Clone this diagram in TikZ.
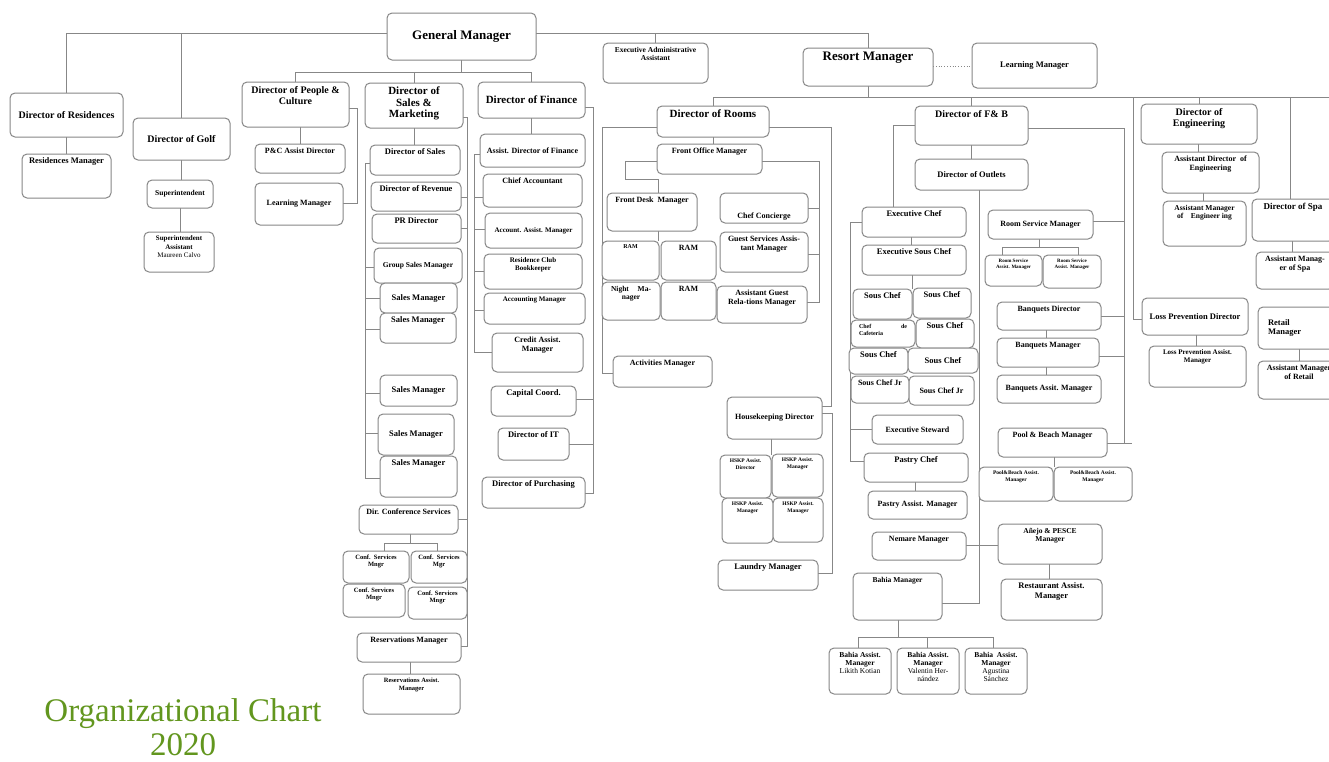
\documentclass[tikz,border=0pt]{standalone}
\usepackage{fontspec}
\setmainfont{Liberation Serif}
\usetikzlibrary{calc}
\pgfdeclarelayer{bg}
\pgfsetlayers{bg,main}
\definecolor{ln}{RGB}{135,135,135}
\definecolor{ttl}{RGB}{98,150,30}
\tikzset{
  bx/.style={draw=ln,line width=1pt,rounded corners=5pt,inner sep=0pt,outer sep=0pt,fill=white},
  cn/.style={draw=ln,line width=0.9pt}
}
\newcommand\fsz[2]{\fontsize{#1}{#2}\selectfont\bfseries}
\newcommand\nmw{\mdseries}
\newcommand\obx[7]{\node[bx,minimum width={(#4-#2)*1pt},minimum height={(#5-#3)*1pt}] (#1) at ({(#2+#4)/2},{(#3+#5)/2}) {\parbox[c][\dimexpr #5pt-#3pt-8pt\relax][#6]{\dimexpr #4pt-#2pt-4pt\relax}{\centering #7\par}};}
\begin{document}
\begin{tikzpicture}[x=1pt,y=-1pt]
\useasboundingbox (0,0) rectangle (1329,761);
\clip (0,0) rectangle (1329,761);
% top
\obx{gm}{387}{13}{536}{60}{c}{\fsz{13}{14}General Manager}
\obx{eaa}{603}{43}{708}{83}{t}{\fsz{7.5}{8.5}Executive Administrative\\Assistant}
\obx{rm}{803}{48}{933}{86}{t}{\fsz{13}{14}Resort Manager}
\obx{lmr}{972}{43}{1097}{88}{c}{\fsz{8.5}{9.5}Learning Manager}
% left
\obx{dres}{10}{93}{123}{137}{c}{\fsz{10}{11}Director of Residences}
\obx{resm}{22}{154}{111}{198}{t}{\fsz{8.5}{9.5}Residences Manager}
\obx{dgolf}{133}{118}{230}{160}{c}{\fsz{10}{11}Director of Golf}
\obx{sup}{147}{180}{213}{208}{c}{\fsz{7.5}{8.5}Superintendent}
\obx{supa}{144}{232}{214}{272}{t}{\fsz{7}{8.5}Superintendent\\Assistant\\\nmw Maureen Calvo}
% people & culture
\obx{dpc}{242}{82}{349}{127}{t}{\fsz{10}{11}Director of People \&\\Culture}
\obx{pcad}{255}{144}{345}{173}{t}{\fsz{8}{9}P\&C Assist Director}
\obx{lml}{255}{183}{343}{225}{c}{\fsz{8}{9}Learning Manager}
% sales & marketing
\obx{dsm}{365}{83}{463}{128}{t}{\fsz{11}{11.5}Director of\\Sales \&\\Marketing}
\obx{ds}{370}{145}{460}{175}{t}{\fsz{8.5}{9.5}Director of Sales}
\obx{dorev}{371}{182}{461}{211}{t}{\fsz{8.5}{9.5}Director of Revenue}
\obx{prd}{372}{214}{461}{243}{t}{\fsz{8.5}{9.5}PR Director}
\obx{gsm}{374}{248}{462}{283}{c}{\fsz{7.5}{8.5}Group Sales Manager}
\obx{sm1}{380}{283}{457}{313}{c}{\fsz{8.5}{9.5}Sales Manager}
\obx{sm2}{380}{313}{456}{343}{t}{\fsz{8.5}{9.5}Sales Manager}
\obx{sm3}{380}{375}{457}{406}{c}{\fsz{8.5}{9.5}Sales Manager}
\obx{sm4}{378}{414}{454}{455}{c}{\fsz{8.5}{9.5}Sales Manager}
\obx{sm5}{380}{456}{457}{497}{t}{\fsz{8.5}{9.5}Sales Manager}
\obx{dcs}{359}{505}{458}{534}{t}{\fsz{8}{9}Dir. Conference Services}
\obx{cs1}{343}{551}{409}{583}{t}{\fsz{6.5}{7}Conf.\ \ Services\\Mngr}
\obx{cs2}{411}{551}{467}{583}{t}{\fsz{6.5}{7}Conf.\ \ Services\\Mgr}
\obx{cs3}{343}{584}{405}{617}{t}{\fsz{6.5}{7}Conf. Services\\Mngr}
\obx{cs4}{408}{587}{467}{619}{t}{\fsz{6.5}{7}Conf. Services\\Mngr}
\obx{rsv}{357}{633}{461}{662}{t}{\fsz{8}{9}Reservations Manager}
\obx{rsva}{363}{674}{460}{714}{t}{\fsz{6.5}{8}Reservations Assist.\\Manager}
% finance
\obx{dfin}{478}{82}{585}{118}{c}{\fsz{11}{12}Director of Finance}
\obx{adf}{480}{134}{585}{167}{c}{\fsz{8}{9}Assist. Director of Finance}
\obx{ca}{483}{174}{582}{207}{t}{\fsz{8}{9}Chief Accountant}
\obx{aam}{485}{213}{582}{248}{c}{\fsz{7}{8}Account. Assist. Manager}
\obx{rcb}{484}{254}{582}{289}{t}{\fsz{7}{7.5}Residence Club\\Bookkeeper}
\obx{am}{484}{293}{585}{324}{t}{\fsz{7}{8}Accounting Manager}
\obx{cam}{492}{333}{583}{372}{t}{\fsz{8}{9}Credit Assist.\\Manager}
\obx{capc}{491}{386}{576}{416}{t}{\fsz{8.5}{9.5}Capital Coord.}
\obx{dit}{498}{428}{569}{460}{t}{\fsz{8.5}{9.5}Director of IT}
\obx{dpur}{482}{477}{585}{508}{t}{\fsz{8.5}{9.5}Director of Purchasing}
% rooms
\obx{dro}{657}{106}{769}{137}{t}{\fsz{11}{12}Director of Rooms}
\obx{fom}{657}{144}{762}{174}{t}{\fsz{8}{9}Front Office Manager}
\obx{fdm}{607}{193}{697}{231}{t}{\fsz{8}{9}Front Desk\ \ Manager}
\obx{ram1}{602}{241}{659}{280}{t}{\fsz{6}{7}RAM}
\obx{ram2}{661}{241}{716}{280}{t}{\fsz{8}{9}RAM}
\obx{nmg}{602}{282}{660}{320}{t}{\fsz{7.5}{8.5}\makebox[40pt][s]{Night Ma-}\\nager}
\obx{ram3}{661}{282}{716}{320}{t}{\fsz{8}{9}RAM}
\obx{chc}{720}{193}{808}{223}{b}{\fsz{8}{9}Chef Concierge}
\obx{gsam}{720}{232}{808}{272}{t}{\fsz{8}{9}Guest Services Assis-\\tant Manager}
\obx{agrm}{717}{286}{807}{323}{t}{\fsz{8}{9}Assistant Guest\\Rela-tions Manager}
\obx{act}{613}{356}{712}{387}{t}{\fsz{8}{9}Activities Manager}
\obx{hkd}{727}{397}{822}{439}{c}{\fsz{8}{9}Housekeeping Director}
\obx{hk1}{720}{455}{771}{498}{t}{\fsz{5.5}{6.5}HSKP Assist.\\Director}
\obx{hk2}{772}{454}{823}{497}{t}{\fsz{5.5}{6.5}HSKP Assist.\\Manager}
\obx{hk3}{722}{498}{773}{543}{t}{\fsz{5.5}{6.5}HSKP Assist.\\Manager}
\obx{hk4}{773}{498}{823}{542}{t}{\fsz{5.5}{6.5}HSKP Assist.\\Manager}
\obx{lau}{718}{560}{818}{590}{t}{\fsz{8.5}{9.5}Laundry Manager}
% F&B
\obx{dfb}{915}{106}{1028}{145}{t}{\fsz{10}{11}Director of F\& B}
\obx{dout}{915}{159}{1028}{190}{c}{\fsz{8.5}{9.5}Director of Outlets}
\obx{ec}{862}{207}{966}{237}{t}{\fsz{8.5}{9.5}Executive Chef}
\obx{esc}{862}{245}{966}{275}{t}{\fsz{8.5}{9.5}Executive Sous Chef}
\obx{sc1}{853}{289}{912}{319}{t}{\fsz{8.5}{9.5}Sous Chef}
\obx{sc2}{913}{288}{971}{318}{t}{\fsz{8.5}{9.5}Sous Chef}
\obx{cdc}{851}{320}{915}{347}{t}{\fsz{6}{7}{\raggedright\leftskip=6pt\makebox[48pt][s]{Chef de}\\Cafeteria\par}}
\obx{sc3}{916}{319}{974}{348}{t}{\fsz{8.5}{9.5}Sous Chef}
\obx{sc4}{849}{348}{908}{374}{t}{\fsz{8.5}{9.5}Sous Chef}
\obx{sc5}{908}{348}{978}{373}{c}{\fsz{8.5}{9.5}Sous Chef}
\obx{scj1}{851}{376}{909}{403}{t}{\fsz{8}{9}Sous Chef Jr}
\obx{scj2}{909}{376}{974}{405}{c}{\fsz{8}{9}Sous Chef Jr}
\obx{es}{872}{415}{963}{444}{c}{\fsz{8}{9}Executive Steward}
\obx{pc}{864}{453}{968}{482}{t}{\fsz{8.5}{9.5}Pastry Chef}
\obx{pam}{868}{491}{967}{519}{c}{\fsz{8}{9}Pastry Assist. Manager}
\obx{nem}{872}{532}{966}{560}{t}{\fsz{8}{9}Nemare Manager}
\obx{bm}{853}{573}{942}{620}{t}{\fsz{7.5}{8.5}Bahia Manager}
\obx{ba1}{829}{648}{891}{694}{t}{\fsz{7.5}{8}Bahia Assist.\\Manager\\\nmw Likith Kotian}
\obx{ba2}{897}{648}{959}{694}{t}{\fsz{7.5}{8}Bahia Assist.\\Manager\\\nmw Valentin Her-\\nández}
\obx{ba3}{965}{648}{1027}{694}{t}{\fsz{7.5}{8}Bahia\ \ Assist.\\Manager\\\nmw Agustina\\Sánchez}
\obx{rsm}{988}{210}{1093}{239}{c}{\fsz{8}{9}Room Service Manager}
\obx{rsa1}{985}{255}{1042}{286}{t}{\fsz{5}{6}Room Service\\Assist. Manager}
\obx{rsa2}{1043}{255}{1101}{288}{t}{\fsz{5}{6}Room Service\\Assist. Manager}
\obx{bqd}{997}{302}{1101}{330}{t}{\fsz{8}{9}Banquets Director}
\obx{bqm}{997}{338}{1099}{367}{t}{\fsz{8}{9}Banquets Manager}
\obx{bqa}{997}{375}{1101}{403}{c}{\fsz{8}{9}Banquets Assit. Manager}
\obx{pbm}{998}{428}{1107}{457}{t}{\fsz{8}{9}Pool \& Beach Manager}
\obx{pba1}{979}{467}{1053}{501}{t}{\fsz{5.5}{6.5}Pool\&Beach Assist.\\Manager}
\obx{pba2}{1054}{467}{1132}{501}{t}{\fsz{5.5}{6.5}Pool\&Beach Assist.\\Manager}
\obx{anj}{998}{524}{1102}{564}{t}{\fsz{7.5}{8.5}Añejo \& PESCE\\Manager}
\obx{rstam}{1001}{579}{1102}{620}{t}{\fsz{8.5}{9.5}Restaurant Assist.\\Manager}
% engineering, spa, loss prevention, retail
\obx{deng}{1141}{104}{1257}{144}{t}{\fsz{10}{11}Director of\\Engineering}
\obx{adeng}{1162}{152}{1259}{193}{t}{\fsz{8}{9}Assistant Director\ \ of\\Engineering}
\obx{ameng}{1163}{201}{1246}{246}{t}{\fsz{7.5}{8.5}Assistant Manager\\of\ \ \ \ Engineer ing}
\obx{dspa}{1252}{199}{1334}{241}{t}{\fsz{9}{10}Director of Spa}
\obx{amspa}{1256}{252}{1334}{289}{t}{\fsz{8}{9}Assistant Manag-\\er of Spa}
\obx{lpd}{1142}{298}{1248}{335}{c}{\fsz{8.5}{9.5}Loss Prevention Director}
\obx{lpam}{1149}{346}{1246}{387}{t}{\fsz{7}{8}Loss Prevention Assist.\\Manager}
\obx{retm}{1258}{307}{1340}{349}{c}{\fsz{8.5}{9.5}{\raggedright\leftskip=8pt Retail\\Manager\par}}
\obx{amr}{1258}{361}{1340}{399}{t}{\fsz{8}{9}Assistant Manager\\of Retail}
% title
\node[anchor=north,align=center,text=ttl,font=\fontsize{33}{34}\selectfont,inner sep=0pt] (title) at (183,698) {Organizational Chart\\2020};
\begin{pgfonlayer}{bg}
\fill[white] (0,0) rectangle (1329,761);
% top
\draw[cn] (gm.west |- 0,33) -| (dres.north);
\draw[cn] (dgolf.north) -- (dgolf.north |- 0,33);
\draw[cn] (gm.east |- 0,33) -| (rm.north);
\draw[cn] (eaa.north) -- (eaa.north |- 0,33);
\draw[cn] (dres.south) -- (resm.north);
\draw[cn] (dgolf.south) -- (dgolf.south |- sup.north);
\draw[cn] (sup.south) -- (sup.south |- supa.north);
\draw[cn] (gm.south) -- (gm.south |- 0,72);
\draw[cn] (dpc.north) |- (dfin.north |- 0,72) -- (dfin.north);
\draw[cn] (dsm.north) -- (dsm.north |- 0,72);
% people & culture
\draw[cn] (dpc.south -| pcad.north) -- (pcad.north);
\draw[cn] (dpc.east |- 0,108) -- (357,108) -- (357,203) -- (lml.east |- 0,203);
% sales & marketing
\draw[cn] (dsm.south) -- (dsm.south |- ds.north);
\draw[cn] (ds.west |- 0,163) -- (365,163) -- (365,478) -- (sm5.west |- 0,478);
\foreach \n/\y in {gsm/267,sm1/298,sm2/329,sm3/393,sm4/433} \draw[cn] (365,\y) -- (\n.west |- 0,\y);
\draw[cn] (dsm.east |- 0,117) -- (467,117) -- (467,646) -- (rsv.east |- 0,646);
\foreach \n/\y in {dorev/197,prd/228,dcs/519} \draw[cn] (\n.east |- 0,\y) -- (467,\y);
\draw[cn] (dcs.south -| 410,0) -- (410,543);
\draw[cn] (cs1.north -| 384,0) -- (384,543) -- (437,543) -- (cs2.north -| 437,0);
\draw[cn] (rsv.south -| 410,0) -- (rsva.north -| 410,0);
% finance
\draw[cn] (dfin.south) -- (dfin.south |- adf.north);
\draw[cn] (adf.west |- 0,154) -- (474,154) -- (474,352) -- (cam.west |- 0,352);
\foreach \n/\y in {ca/197,aam/229,rcb/271,am/310} \draw[cn] (474,\y) -- (\n.west |- 0,\y);
\draw[cn] (dfin.east |- 0,107) -- (593,107) -- (593,493) -- (dpur.east |- 0,493);
\foreach \n/\y in {capc/399,dit/444} \draw[cn] (\n.east |- 0,\y) -- (593,\y);
% resort manager
\draw[cn,line width=0.8pt,dotted] (rm.east |- 0,66) -- (lmr.west |- 0,66);
\draw[cn] (rm.south) -- (rm.south |- 0,97);
\draw[cn] (dro.north) -- (dro.north |- 0,97) -- (1329,97);
\draw[cn] (dfb.north) -- (dfb.north |- 0,97);
\draw[cn] (deng.north) -- (deng.north |- 0,97);
\draw[cn] (dspa.north -| 1290,0) -- (1290,97);
\draw[cn] (1133,97) -- (1133,319) -- (lpd.west |- 0,319);
% rooms
\draw[cn] (dro.south) -- (dro.south |- fom.north);
\draw[cn] (dro.east |- 0,127) -- (831,127) -- (831,406) -- (hkd.east |- 0,406);
\draw[cn] (dro.west |- 0,127) -- (602,127) -- (602,373) -- (act.west |- 0,373);
\draw[cn] (fom.east |- 0,161) -- (819,161) -- (819,302) -- (agrm.east |- 0,302);
\foreach \n/\y in {chc/208,gsam/254} \draw[cn] (\n.east |- 0,\y) -- (819,\y);
\draw[cn] (fom.west |- 0,161) -- (625,161) -- (625,179) -- (658,179) -- (fdm.north -| 658,0);
\draw[cn] (fdm.south -| 658,0) -- (ram1.north -| 658,0);
\draw[cn] (hkd.south -| 771,0) -- (hk1.north -| 771,0);
\draw[cn] (hkd.east |- 0,413) -- (832,413) -- (832,573) -- (lau.east |- 0,573);
% F&B
\draw[cn] (dfb.south) -- (dout.north);
\draw[cn] (dfb.east |- 0,128) -- (1124,128) -- (1124,443);
\draw[cn] (pbm.east |- 0,443) -- (1132,443);
\foreach \n/\y in {rsm/221,bqd/316,bqm/356} \draw[cn] (\n.east |- 0,\y) -- (1124,\y);
\draw[cn] (dfb.west |- 0,125) -- (893,125) -- (ec.north -| 893,0);
\draw[cn] (dout.south -| 979,0) -- (979,603) -- (bm.east |- 0,603);
\draw[cn] (nem.east |- 0,545) -- (anj.west |- 0,545);
\draw[cn] (ec.south -| 911,0) -- (esc.north -| 911,0);
\draw[cn] (esc.south -| 912,0) -- (sc1.north -| 912,0);
\draw[cn] (ec.west |- 0,222) -- (850,222) -- (850,461) -- (pc.west |- 0,461);
\draw[cn] (850,429) -- (es.west |- 0,429);
\draw[cn] (pc.south -| 915,0) -- (pam.north -| 915,0);
\draw[cn] (bm.south -| 898,0) -- (898,637);
\draw[cn] (ba1.north -| 858,0) -- (858,637) -- (993,637) -- (ba3.north -| 993,0);
\draw[cn] (ba2.north -| 927,0) -- (927,637);
\draw[cn] (rsm.south -| 1039,0) -- (1039,247);
\draw[cn] (rsa1.north -| 1002,0) -- (1002,247) -- (1078,247) -- (rsa2.north -| 1078,0);
\draw[cn] (bqd.south -| 1046,0) -- (bqm.north -| 1046,0);
\draw[cn] (bqm.south -| 1046,0) -- (bqa.north -| 1046,0);
\draw[cn] (pbm.south -| 1054,0) -- (pba1.north -| 1054,0);
\draw[cn] (anj.south -| 1049,0) -- (rstam.north -| 1049,0);
% engineering etc.
\draw[cn] (deng.south -| 1198,0) -- (adeng.north -| 1198,0);
\draw[cn] (adeng.south -| 1203,0) -- (ameng.north -| 1203,0);
\draw[cn] (dspa.south -| 1292,0) -- (amspa.north -| 1292,0);
\draw[cn] (lpd.south -| 1196,0) -- (lpam.north -| 1196,0);
\draw[cn] (retm.south -| 1299,0) -- (amr.north -| 1299,0);
\end{pgfonlayer}
\end{tikzpicture}
\end{document}
